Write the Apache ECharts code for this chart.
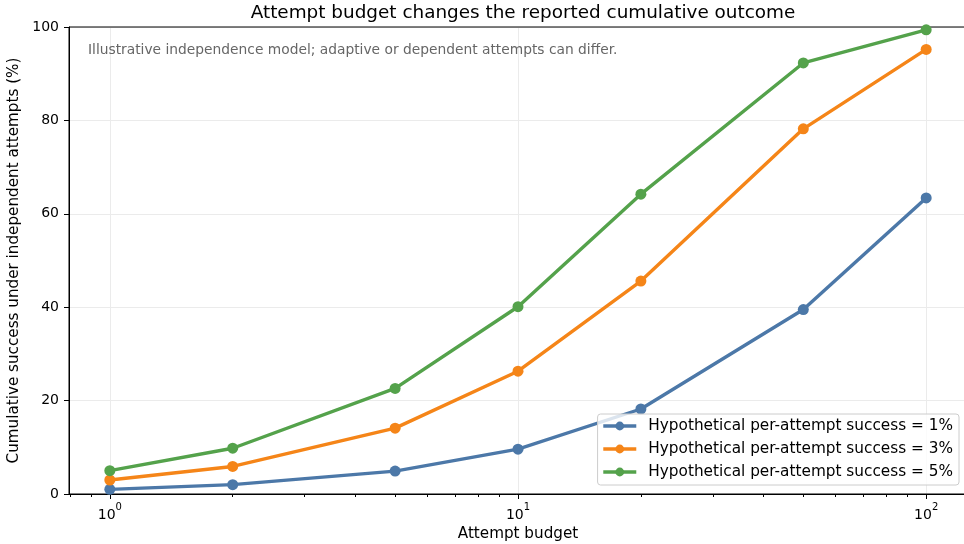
<!DOCTYPE html>
<html>
<head>
<meta charset="utf-8">
<script src="https://cdn.jsdelivr.net/npm/echarts@6/dist/echarts.min.js"></script>
<style>
  html, body { margin: 0; padding: 0; background: #fff; }
  #chart { width: 964px; height: 544px; }
</style>
</head>
<body>
<div id="chart"></div>
<script>
// attempt budgets (log x axis)
const budgets = [1, 2, 5, 10, 20, 50, 100];
// cumulative success in %
const success1 = [1.0, 2.0, 4.9, 9.6, 18.2, 39.5, 63.4];
const success3 = [3.0, 5.9, 14.1, 26.3, 45.6, 78.2, 95.2];
const success5 = [5.0, 9.8, 22.6, 40.1, 64.2, 92.3, 99.4];
const seriesNames = [
  "Hypothetical per-attempt success = 1%",
  "Hypothetical per-attempt success = 3%",
  "Hypothetical per-attempt success = 5%",
];
const majorTicks = [1, 10, 100];
const minorTicks = [0.8, 0.9, 2, 3, 4, 5, 6, 7, 8, 9, 20, 30, 40, 50, 60, 70, 80, 90];

const colors = ["#4c78a8", "#f58518", "#54a24b"];
const font = "DejaVu Sans";
const xMin = Math.pow(10, -0.1);
const xMax = Math.pow(10, 2.1);

function pairs(ys) {
  return budgets.map((b, i) => [b, ys[i]]);
}

const chart = echarts.init(document.getElementById("chart"));

const lineSeries = [success1, success3, success5].map((ys, i) => ({
  name: seriesNames[i],
  type: "line",
  data: pairs(ys),
  symbol: "circle",
  symbolSize: 11,
  lineStyle: { width: 3.4, color: colors[i] },
  itemStyle: { color: colors[i] },
  emphasis: { disabled: true },
  z: 3 + i,
}));

chart.setOption({
  animation: false,
  color: colors,
  textStyle: { fontFamily: font },
  title: {
    text: "Attempt budget changes the reported cumulative outcome",
    left: 518,
    textAlign: "center",
    top: -1,
    textStyle: { fontFamily: font, fontSize: 18.4, fontWeight: "normal", color: "#000" },
  },
  grid: { left: 69, right: -3, top: 27, bottom: 50, containLabel: false, outerBoundsMode: "none" },
  graphic: [
    {
      type: "text",
      left: 88,
      top: 43,
      style: {
        text: "Illustrative independence model; adaptive or dependent attempts can differ.",
        fontFamily: font,
        fontSize: 13.8,
        fill: "#666",
      },
      z: 10,
    },
    {
      type: "rect",
      shape: { x: 69, y: 27, width: 898, height: 467 },
      style: { fill: "none", stroke: "#000", lineWidth: 1 },
      silent: true,
      z: 1,
    },
  ],
  legend: {
    right: 5,
    top: 414,
    orient: "vertical",
    itemWidth: 33,
    itemHeight: 11,
    itemGap: 5,
    padding: [3, 6, 4, 4],
    backgroundColor: "rgba(255,255,255,0.8)",
    borderColor: "#cccccc",
    borderWidth: 1,
    borderRadius: 3,
    lineStyle: { width: 3.4 },
    textStyle: { fontFamily: font, fontSize: 15.3, color: "#000", lineHeight: 18, padding: [0, 0, 0, 7] },
    data: seriesNames,
  },
  xAxis: [
    {
      type: "log",
      logBase: 10,
      min: xMin,
      max: xMax,
      name: "Attempt budget",
      nameLocation: "middle",
      nameGap: 32,
      nameTextStyle: { fontFamily: font, fontSize: 15.2, color: "#000" },
      axisLine: { show: true, lineStyle: { color: "#000", width: 1 } },
      axisTick: { show: true, customValues: majorTicks, length: 5, lineStyle: { color: "#000" } },
      axisLabel: {
        customValues: majorTicks,
        color: "#000",
        margin: 8,
        formatter: (v) => "{n|10}{s|" + Math.round(Math.log10(v)) + "}",
        rich: {
          n: { fontFamily: font, fontSize: 14, color: "#000", lineHeight: 20, verticalAlign: "bottom" },
          s: { fontFamily: font, fontSize: 10, color: "#000", lineHeight: 10, verticalAlign: "top" },
        },
      },
      splitLine: { show: true, lineStyle: { color: "#ebebeb", width: 1 } },
    },
    {
      type: "log",
      logBase: 10,
      min: xMin,
      max: xMax,
      position: "bottom",
      axisLine: { show: false },
      axisTick: { show: true, customValues: minorTicks, length: 3, lineStyle: { color: "#000" } },
      axisLabel: { show: false },
      splitLine: { show: false },
    },
  ],
  yAxis: {
    type: "value",
    min: 0,
    max: 100,
    interval: 20,
    name: "Cumulative success under independent attempts (%)",
    nameLocation: "middle",
    nameGap: 42,
    nameTextStyle: { fontFamily: font, fontSize: 15.2, color: "#000" },
    axisLine: { show: true, lineStyle: { color: "#000", width: 1 } },
    axisTick: { show: true, length: 5, lineStyle: { color: "#000" } },
    axisLabel: { fontFamily: font, fontSize: 14, color: "#000", margin: 10 },
    splitLine: { show: true, lineStyle: { color: "#ebebeb", width: 1 } },
  },
  series: lineSeries,
});
</script>
</body>
</html>
